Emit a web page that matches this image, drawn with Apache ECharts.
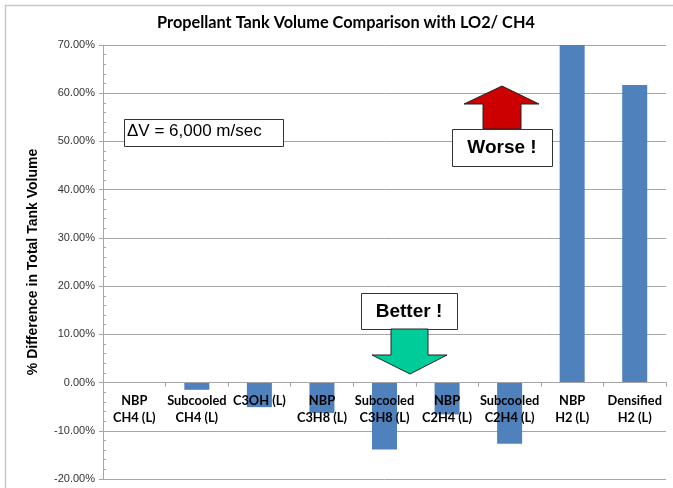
<!DOCTYPE html>
<html><head><meta charset="utf-8">
<script src="https://cdn.jsdelivr.net/npm/echarts@6/dist/echarts.min.js"></script>
<style>html,body{margin:0;padding:0;background:#fff}#c{width:673px;height:488px}</style>
</head><body><div id="c"></div>
<script>
const categories = ["NBP\nCH4 (L)", "Subcooled\nCH4 (L)", "C3OH (L)", "NBP\nC3H8 (L)", "Subcooled\nC3H8 (L)", "NBP\nC2H4 (L)", "Subcooled\nC2H4 (L)", "NBP\nH2 (L)", "Densified\nH2 (L)"];
const pctDifference = [0, -1.5, -5.1, -6.3, -13.9, -6.6, -12.7, 70, 61.7];
const yTicks = { min: -20, max: 70, interval: 10 };
const titleText = "Propellant Tank Volume Comparison with LO2/ CH4";
const yAxisTitle = "% Difference in Total Tank Volume";
const dvText = "\u0394V = 6,000 m/sec";
const worseText = "Worse !";
const betterText = "Better !";

const chart = echarts.init(document.getElementById('c'), null, {renderer: 'canvas'});
const gridCol = '#a6a6a6';
const W = 673, H = 488;
const gridTop = 45, gridBottom = 9, gridLeft = 103, gridRight = 7;
const plotH = H - gridTop - gridBottom;
const plotW = W - gridLeft - gridRight;
const zeroOffset = plotH * (0 - yTicks.min) / (yTicks.max - yTicks.min);
chart.setOption({
  animation: false,
  title: {
    text: titleText, left: 341, top: 10, textAlign: 'center',
    textStyle: {fontFamily: 'Lato', fontWeight: 'bold', fontSize: 16.3, color: '#000'}
  },
  grid: {left: gridLeft, right: gridRight, top: gridTop, bottom: gridBottom, containLabel: false, outerBoundsMode: 'none'},
  xAxis: {
    type: 'category', data: categories, z: 5, position: 'bottom', offset: -zeroOffset,
    axisLine: {onZero: false, lineStyle: {color: gridCol, width: 1}},
    axisTick: {show: true, length: 4, lineStyle: {color: gridCol}},
    axisLabel: {show: true, interval: 0, margin: 10, lineHeight: 17, fontFamily: 'Lato', fontWeight: 'bold', fontSize: 12.8, color: '#000'}
  },
  yAxis: [{
    type: 'value', min: yTicks.min, max: yTicks.max, interval: yTicks.interval,
    axisLine: {show: true, lineStyle: {color: gridCol}},
    axisTick: {show: true, length: 4, lineStyle: {color: gridCol}},
    splitLine: {show: true, lineStyle: {color: gridCol, width: 1}},
    axisLabel: {margin: 8, fontFamily: 'Liberation Sans', fontSize: 11, color: '#333',
      formatter: v => v.toFixed(2) + '%'},
    name: yAxisTitle, nameLocation: 'middle', nameGap: 63, nameRotate: 90,
    nameTextStyle: {fontFamily: 'Liberation Sans', fontWeight: 'bold', fontSize: 14, color: '#000'}
  }, {
    type: 'value', min: yTicks.min, max: yTicks.max, interval: yTicks.interval,
    position: 'right', offset: -plotW,
    axisLine: {show: false}, axisLabel: {show: false}, splitLine: {show: false},
    axisTick: {show: false},
    minorTick: {show: true, splitNumber: 5, length: 3, lineStyle: {color: gridCol}}
  }],
  series: [{
    type: 'bar', data: pctDifference, barWidth: 25, clip: true,
    itemStyle: {color: '#4f81bd'}
  }],
  graphic: [
    {type: 'rect', left: 3, top: 3, z: 100, shape: {width: 700, height: 500}, style: {fill: 'none', stroke: '#c8c8c8', lineWidth: 1.5}, silent: true},
    {type: 'rect', left: 124, top: 119, z: 100, shape: {width: 159, height: 27}, style: {fill: '#fff', stroke: '#333', lineWidth: 1}},
    {type: 'text', left: 127, top: 123, z: 101, style: {text: dvText, font: '17px "Liberation Sans"', fill: '#000'}},
    {type: 'polygon', z: 100, shape: {points: [[502,86],[539,104],[521,104],[521,129],[483,129],[483,104],[464,104]]},
      style: {fill: '#cc0000', stroke: '#222', lineWidth: 1}},
    {type: 'rect', left: 452, top: 129, z: 100, shape: {width: 100, height: 37}, style: {fill: '#fff', stroke: '#333', lineWidth: 1}},
    {type: 'text', x: 502, y: 148, z: 101, style: {text: worseText, font: 'bold 19px "Liberation Sans"', fill: '#000', align: 'center', verticalAlign: 'middle'}},
    {type: 'rect', left: 361, top: 293, z: 100, shape: {width: 96, height: 36}, style: {fill: '#fff', stroke: '#333', lineWidth: 1}},
    {type: 'text', x: 409, y: 312, z: 101, style: {text: betterText, font: 'bold 19px "Liberation Sans"', fill: '#000', align: 'center', verticalAlign: 'middle'}},
    {type: 'polygon', z: 100, shape: {points: [[391,329],[428,329],[428,355],[447,355],[410,374],[372,355],[391,355]]},
      style: {fill: '#00cc99', stroke: '#222', lineWidth: 1}}
  ]
});
</script></body></html>
